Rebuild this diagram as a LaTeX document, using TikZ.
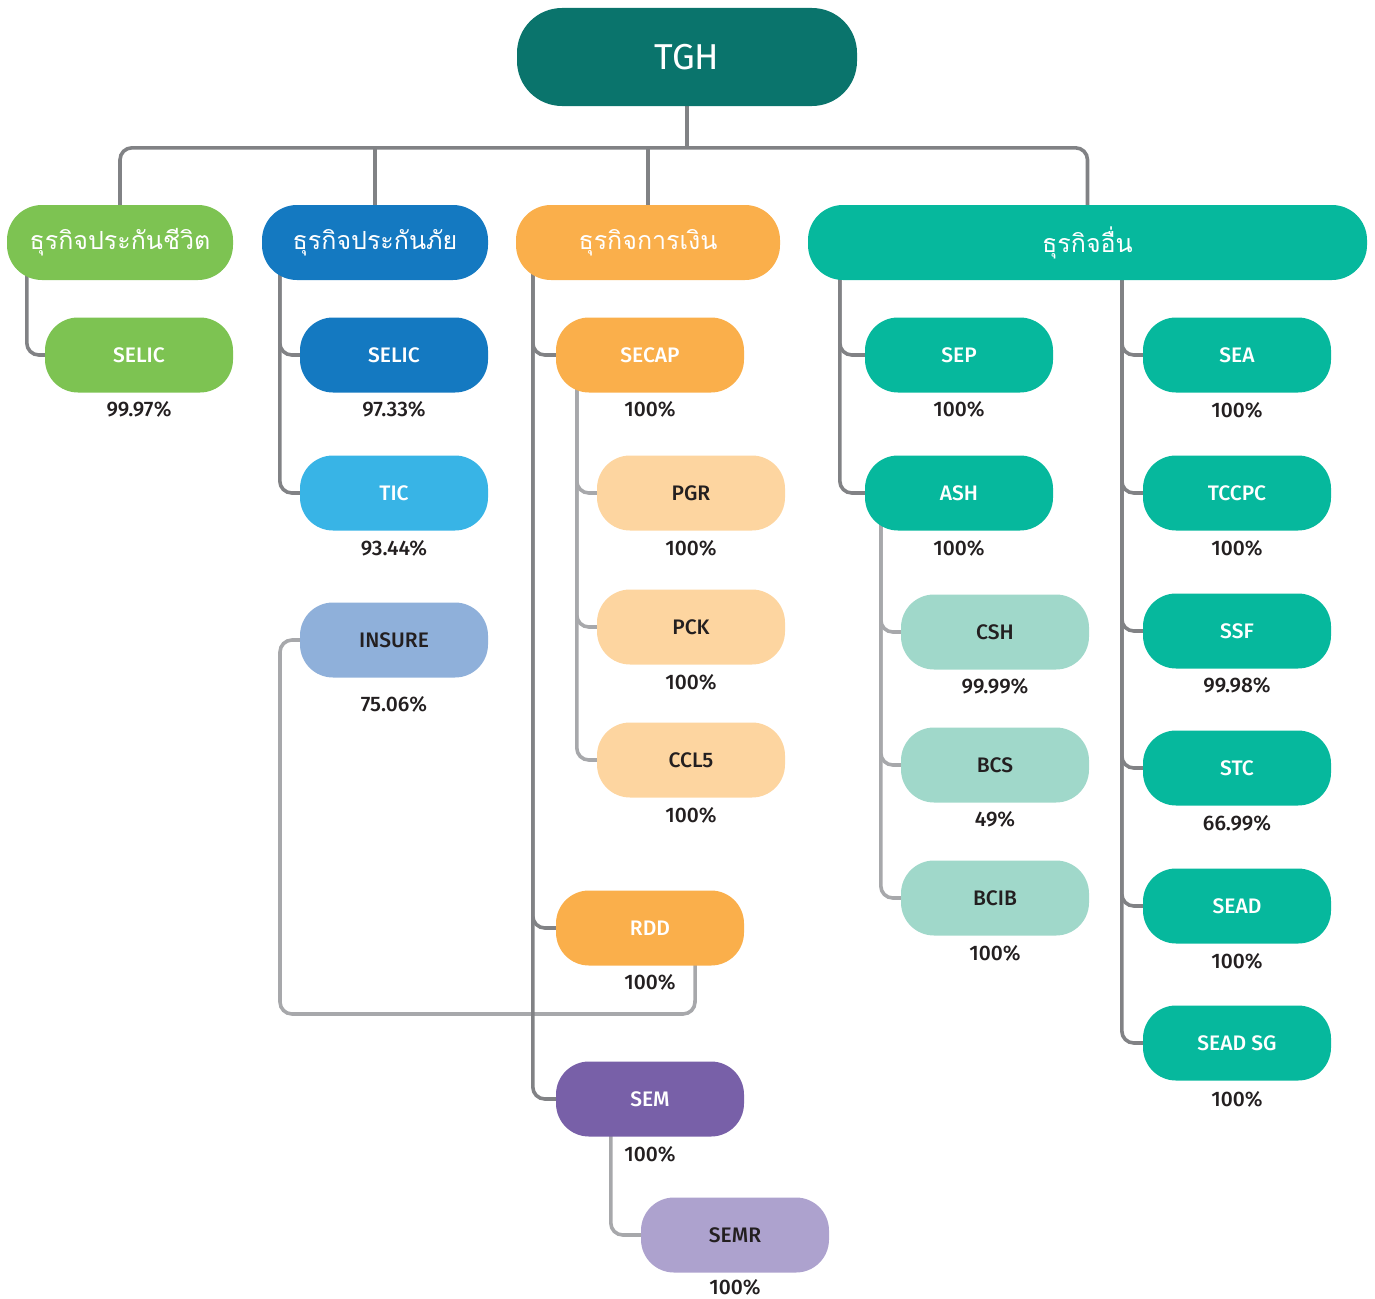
\documentclass[tikz,border=0pt]{standalone}
\usepackage{fontspec}
\usetikzlibrary{backgrounds}
\setmainfont{Fira Sans}
\newfontfamily\thaifont[Script=Thai]{Loma}
\newfontfamily\medfont{Fira Sans Medium}
\definecolor{tghc}{HTML}{0A746C}
\definecolor{lifec}{HTML}{7DC352}
\definecolor{nlc}{HTML}{1479C1}
\definecolor{ticc}{HTML}{38B4E6}
\definecolor{insc}{HTML}{8FB0DA}
\definecolor{finc}{HTML}{FAAF4B}
\definecolor{finlc}{HTML}{FDD5A0}
\definecolor{othc}{HTML}{06B89D}
\definecolor{othlc}{HTML}{A0D8CA}
\definecolor{semc}{HTML}{7860A8}
\definecolor{semrc}{HTML}{ADA2CE}
\definecolor{connc}{HTML}{818285}
\definecolor{lconnc}{HTML}{A7A8AB}
\definecolor{darktxt}{HTML}{231F20}
\tikzset{
  topbox/.style={rectangle, rounded corners=45pt, minimum width=340pt, minimum height=98pt, inner sep=0pt, fill=tghc, text=white, font=\fontsize{36}{40}\selectfont},
  lvlone/.style={rectangle, rounded corners=35pt, minimum height=75pt, inner sep=0pt, text=white, font=\thaifont\fontsize{25}{30}\selectfont},
  lvltwo/.style={rectangle, rounded corners=33pt, minimum width=188pt, minimum height=75pt, inner sep=0pt, text=white, font=\medfont\fontsize{21}{25}\selectfont},
  darklbl/.style={text=darktxt},
  pct/.style={inner sep=0pt, text=darktxt, font=\medfont\fontsize{21}{25}\selectfont},
  conn/.style={draw=connc, line width=3.6pt, rounded corners=12pt},
  lconn/.style={draw=lconnc, line width=3.6pt, rounded corners=12pt}
}
\begin{document}
\begin{tikzpicture}[x=1pt,y=1pt]
\useasboundingbox (0,0) rectangle (1375,-1298);
% top
\node[topbox] (tgh) at (687,-57) {TGH};
% level one
\node[lvlone, fill=lifec, minimum width=226pt] (life) at (120,-242.5) {ธุรกิจประกันชีวิต};
\node[lvlone, fill=nlc, minimum width=226pt] (nl) at (375,-242.5) {ธุรกิจประกันภัย};
\node[lvlone, fill=finc, minimum width=264pt] (fin) at (648,-242.5) {ธุรกิจการเงิน};
\node[lvlone, fill=othc, minimum width=559pt] (oth) at (1087.5,-242.5) {ธุรกิจอื่น};
% life
\node[lvltwo, fill=lifec] (lselic) at (139,-355) {SELIC};
\node[pct] (lselicp) at (139,-409) {99.97\%};
% non-life
\node[lvltwo, fill=nlc] (nselic) at (394,-355) {SELIC};
\node[pct] (nselicp) at (394,-409) {97.33\%};
\node[lvltwo, fill=ticc] (tic) at (394,-493) {TIC};
\node[pct] (ticp) at (394,-548) {93.44\%};
\node[lvltwo, fill=insc, darklbl] (insure) at (394,-640) {INSURE};
\node[pct] (insurep) at (394,-704) {75.06\%};
% finance
\node[lvltwo, fill=finc] (secap) at (650,-355) {SECAP};
\node[pct] (secapp) at (650,-409) {100\%};
\node[lvltwo, fill=finlc, darklbl] (pgr) at (691,-493) {PGR};
\node[pct] (pgrp) at (691,-548) {100\%};
\node[lvltwo, fill=finlc, darklbl] (pck) at (691,-627) {PCK};
\node[pct] (pckp) at (691,-682) {100\%};
\node[lvltwo, fill=finlc, darklbl] (ccl) at (691,-760) {CCL5};
\node[pct] (cclp) at (691,-815) {100\%};
\node[lvltwo, fill=finc] (rdd) at (650,-928) {RDD};
\node[pct] (rddp) at (650,-982) {100\%};
\node[lvltwo, fill=semc] (sem) at (650,-1099) {SEM};
\node[pct] (semp) at (650,-1154) {100\%};
\node[lvltwo, fill=semrc, darklbl] (semr) at (735,-1235) {SEMR};
\node[pct] (semrp) at (735,-1287) {100\%};
% other, left column
\node[lvltwo, fill=othc] (sep) at (959,-355) {SEP};
\node[pct] (sepp) at (959,-409) {100\%};
\node[lvltwo, fill=othc] (ash) at (959,-493) {ASH};
\node[pct] (ashp) at (959,-548) {100\%};
\node[lvltwo, fill=othlc, darklbl] (csh) at (995,-632) {CSH};
\node[pct] (cshp) at (995,-686) {99.99\%};
\node[lvltwo, fill=othlc, darklbl] (bcs) at (995,-765) {BCS};
\node[pct] (bcsp) at (995,-819) {49\%};
\node[lvltwo, fill=othlc, darklbl] (bcib) at (995,-898) {BCIB};
\node[pct] (bcibp) at (995,-953) {100\%};
% other, right column
\node[lvltwo, fill=othc] (sea) at (1237,-355) {SEA};
\node[pct] (seap) at (1237,-410) {100\%};
\node[lvltwo, fill=othc] (tccpc) at (1237,-493) {TCCPC};
\node[pct] (tccpcp) at (1237,-548) {100\%};
\node[lvltwo, fill=othc] (ssf) at (1237,-631) {SSF};
\node[pct] (ssfp) at (1237,-685) {99.98\%};
\node[lvltwo, fill=othc] (stc) at (1237,-768) {STC};
\node[pct] (stcp) at (1237,-823) {66.99\%};
\node[lvltwo, fill=othc] (sead) at (1237,-906) {SEAD};
\node[pct] (seadp) at (1237,-961) {100\%};
\node[lvltwo, fill=othc] (seadsg) at (1237,-1043) {SEAD SG};
\node[pct] (seadsgp) at (1237,-1099) {100\%};
% connectors
\begin{scope}[on background layer]
\draw[conn] (tgh.center) -- ([yshift=-42pt]tgh.south);
\draw[conn] (life.center) -- ([yshift=57pt]life.north) -| (oth.center);
\draw[conn] (nl.center) -- ([yshift=57pt]nl.north);
\draw[conn] (fin.center) -- ([yshift=57pt]fin.north);
% life
\draw[conn] ([xshift=20pt,yshift=20pt]life.south west) |- ([xshift=5pt]lselic.west);
% non-life
\draw[conn] ([xshift=18pt,yshift=20pt]nl.south west) |- ([xshift=5pt]nselic.west);
\draw[conn] ([xshift=18pt,yshift=20pt]nl.south west) |- ([xshift=5pt]tic.west);
\coordinate (insb) at (280,-1014);
\coordinate (insr) at (695,-1014);
\draw[lconn] ([xshift=5pt]insure.west) -| (insb) -- (insr) -- ([xshift=-49pt,yshift=20pt]rdd.south east);
% finance
\draw[conn] ([xshift=17pt,yshift=20pt]fin.south west) |- ([xshift=5pt]secap.west);
\draw[conn] ([xshift=17pt,yshift=20pt]fin.south west) |- ([xshift=5pt]rdd.west);
\draw[conn] ([xshift=17pt,yshift=20pt]fin.south west) |- ([xshift=5pt]sem.west);
\draw[lconn] ([xshift=21pt,yshift=20pt]secap.south west) |- ([xshift=5pt]pgr.west);
\draw[lconn] ([xshift=21pt,yshift=20pt]secap.south west) |- ([xshift=5pt]pck.west);
\draw[lconn] ([xshift=21pt,yshift=20pt]secap.south west) |- ([xshift=5pt]ccl.west);
\draw[lconn] ([xshift=55pt,yshift=20pt]sem.south west) |- ([xshift=5pt]semr.west);
% other
\draw[conn] ([xshift=32pt,yshift=20pt]oth.south west) |- ([xshift=5pt]sep.west);
\draw[conn] ([xshift=32pt,yshift=20pt]oth.south west) |- ([xshift=5pt]ash.west);
\draw[lconn] ([xshift=16pt,yshift=20pt]ash.south west) |- ([xshift=5pt]csh.west);
\draw[lconn] ([xshift=16pt,yshift=20pt]ash.south west) |- ([xshift=5pt]bcs.west);
\draw[lconn] ([xshift=16pt,yshift=20pt]ash.south west) |- ([xshift=5pt]bcib.west);
\draw[conn] ([xshift=314pt,yshift=20pt]oth.south west) |- ([xshift=5pt]sea.west);
\draw[conn] ([xshift=314pt,yshift=20pt]oth.south west) |- ([xshift=5pt]tccpc.west);
\draw[conn] ([xshift=314pt,yshift=20pt]oth.south west) |- ([xshift=5pt]ssf.west);
\draw[conn] ([xshift=314pt,yshift=20pt]oth.south west) |- ([xshift=5pt]stc.west);
\draw[conn] ([xshift=314pt,yshift=20pt]oth.south west) |- ([xshift=5pt]sead.west);
\draw[conn] ([xshift=314pt,yshift=20pt]oth.south west) |- ([xshift=5pt]seadsg.west);
\end{scope}
\end{tikzpicture}
\end{document}
